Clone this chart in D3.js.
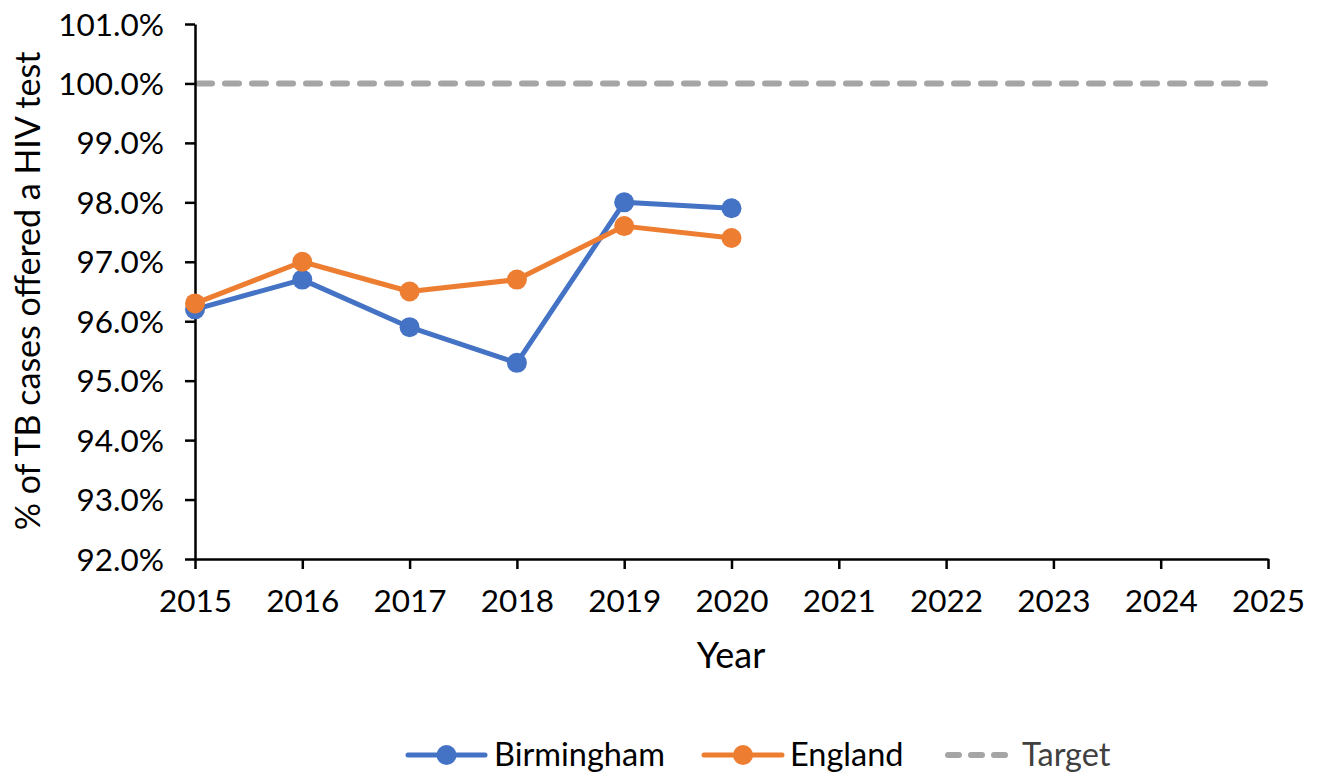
<!DOCTYPE html>
<html>
<head>
<meta charset="utf-8">
<script src="https://cdn.jsdelivr.net/npm/d3@7"></script>
<style>
  html, body { margin: 0; padding: 0; background: #fff; }
  svg { display: block; }
  text { font-family: Lato, "Noto Sans", sans-serif; }
</style>
</head>
<body>
<svg id="chart" width="1317" height="778"></svg>
<script>
const years = [2015, 2016, 2017, 2018, 2019, 2020];
const birmingham = [96.2, 96.7, 95.9, 95.3, 98.0, 97.9];
const england = [96.3, 97.0, 96.5, 96.7, 97.6, 97.4];
const targetYears = [2015, 2025];
const target = [100.0, 100.0];
const xTicks = [2015, 2016, 2017, 2018, 2019, 2020, 2021, 2022, 2023, 2024, 2025];
const yTicks = [92, 93, 94, 95, 96, 97, 98, 99, 100, 101];
const seriesNames = ["Birmingham", "England", "Target"];
const colors = ["#4472C4", "#ED7D31", "#A5A5A5"];
const xTitle = "Year";
const yTitle = "% of TB cases offered a HIV test";

const svg = d3.select("#chart");
const x = d3.scaleLinear().domain([2015, 2025]).range([195, 1268]);
const y = d3.scaleLinear().domain([92, 101]).range([559, 24]);

// target line
const tData = targetYears.map((yr, i) => ({x: yr, y: target[i]}));
svg.append("path")
  .datum(tData)
  .attr("d", d3.line().x(d => x(d.x)).y(d => y(d.y)))
  .attr("fill", "none")
  .attr("stroke", colors[2])
  .attr("stroke-width", 6)
  .attr("stroke-linecap", "round")
  .attr("stroke-dasharray", "14 13")
  .attr("transform", "translate(3,0)");

// axes
const yAxis = d3.axisLeft(y).tickValues(yTicks).tickSize(10).tickSizeOuter(0)
  .tickFormat(d => d.toFixed(1) + "%").tickPadding(21);
const gy = svg.append("g").attr("transform", "translate(195,0)").call(yAxis);
const xAxis = d3.axisBottom(x).tickValues(xTicks).tickSize(10).tickSizeOuter(0)
  .tickFormat(d => String(d)).tickPadding(21);
const gx = svg.append("g").attr("transform", "translate(0,559)").call(xAxis);

[gx, gy].forEach(g => {
  g.select(".domain").attr("stroke", "#000").attr("stroke-width", 2.5);
  g.selectAll(".tick line").attr("stroke", "#000").attr("stroke-width", 2.5);
  g.selectAll(".tick text").attr("fill", "#000").style("font-size", "31.5px")
    .style("font-family", "Lato, 'Noto Sans', sans-serif");
});
gy.selectAll(".tick text").attr("dy", "0.35em");

// series
const series = [
  {name: seriesNames[0], vals: birmingham, color: colors[0]},
  {name: seriesNames[1], vals: england, color: colors[1]}
];
const line = d3.line().x(d => x(d.x)).y(d => y(d.y));
series.forEach(s => {
  const pts = years.map((yr, i) => ({x: yr, y: s.vals[i]}));
  svg.append("path").datum(pts).attr("d", line)
    .attr("fill", "none").attr("stroke", s.color).attr("stroke-width", 5)
    .attr("stroke-linejoin", "round");
  svg.selectAll(null).data(pts).enter().append("circle")
    .attr("cx", d => x(d.x)).attr("cy", d => y(d.y)).attr("r", 10)
    .attr("fill", s.color);
});

// titles
svg.append("text").attr("x", 731).attr("y", 668).attr("text-anchor", "middle")
  .style("font-size", "36px").attr("fill", "#000").text(xTitle);
svg.append("text").attr("transform", "translate(40,291) rotate(-90)")
  .attr("text-anchor", "middle").style("font-size", "34px").attr("fill", "#000").text(yTitle);

// legend
const ly = 755;
const leg = [
  {x0: 408, x1: 485, tx: 494, color: colors[0], name: seriesNames[0], marker: true, tcol: "#000"},
  {x0: 704, x1: 782, tx: 790, color: colors[1], name: seriesNames[1], marker: true, tcol: "#000"},
  {x0: 945, x1: 1008, tx: 1022, color: colors[2], name: seriesNames[2], marker: false, tcol: "#404040"}
];
leg.forEach(l => {
  const ln = svg.append("line").attr("x1", l.x0).attr("x2", l.x1).attr("y1", ly).attr("y2", ly)
    .attr("stroke", l.color).attr("stroke-width", l.marker ? 5 : 6).attr("stroke-linecap", "round");
  if (!l.marker) ln.attr("stroke-dasharray", "11 12").attr("x1", l.x0 + 3);
  if (l.marker) svg.append("circle").attr("cx", (l.x0 + l.x1) / 2).attr("cy", ly).attr("r", 10).attr("fill", l.color);
  svg.append("text").attr("x", l.tx).attr("y", ly).attr("dy", "0.35em")
    .style("font-size", "32.5px").attr("fill", l.tcol).text(l.name);
});
</script>
</body>
</html>
